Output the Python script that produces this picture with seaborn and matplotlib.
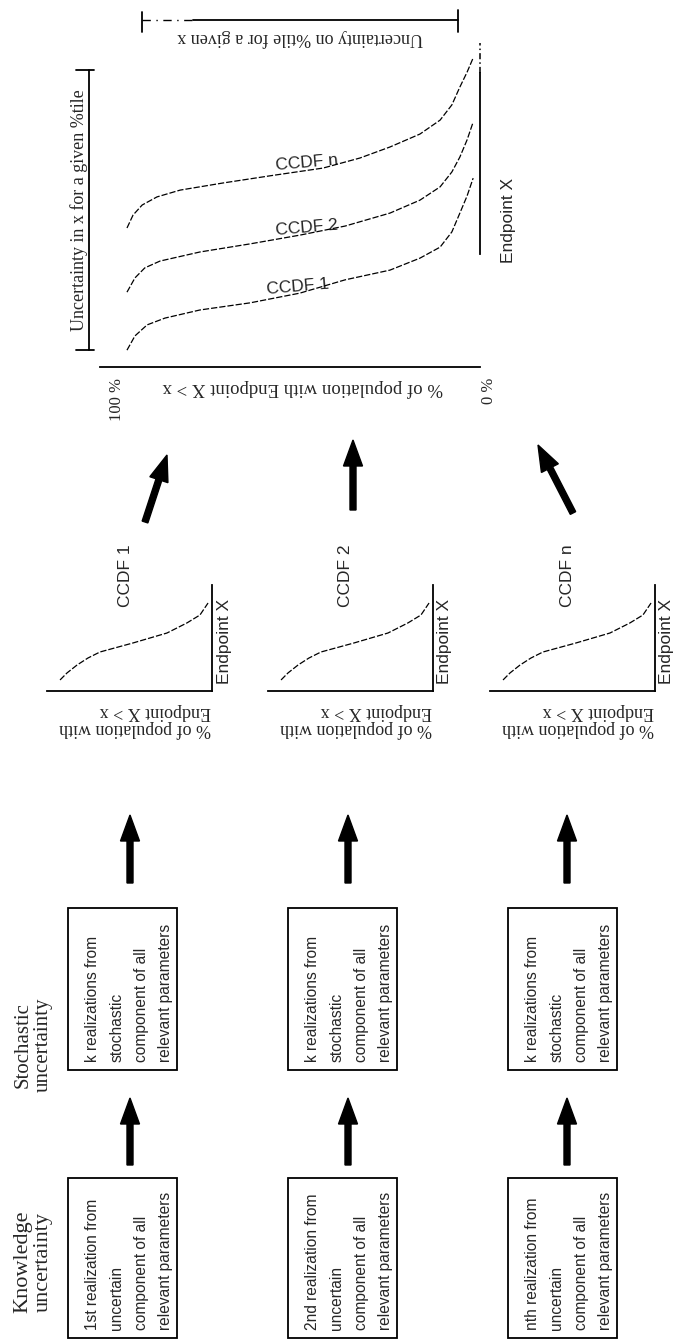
import matplotlib
matplotlib.use("Agg")
import matplotlib.pyplot as plt
import pandas as pd
import seaborn as sns
from matplotlib.patches import Rectangle

sns.set_theme(style="white")
plt.rcParams['font.family'] = ['Liberation Sans', 'DejaVu Sans']
SERIF = ['Liberation Serif', 'DejaVu Serif']

# ---- CCDF data: % of population exceeding x, and endpoint value x ----
ccdf_1_pct = [92.9, 90.8, 87.6, 82.9, 73.7, 60.5, 47.4, 35.5, 23.7, 15.8, 10.5, 7.4, 5.3, 3.4, 1.8]
ccdf_1_end = [0.52, 0.96, 1.30, 1.51, 1.76, 1.98, 2.28, 2.69, 2.99, 3.36, 3.70, 4.17, 4.75, 5.28, 5.83]
ccdf_2_pct = [92.9, 90.8, 88.2, 84.2, 73.7, 60.5, 47.4, 35.5, 23.7, 15.8, 10.5, 7.4, 5.3, 3.4, 1.8]
ccdf_2_end = [2.31, 2.75, 3.06, 3.27, 3.55, 3.80, 4.07, 4.35, 4.75, 5.15, 5.56, 6.02, 6.48, 7.01, 7.56]
ccdf_n_pct = [92.9, 91.3, 88.9, 85.0, 78.9, 67.6, 55.3, 41.3, 31.6, 23.7, 15.8, 10.5, 7.4, 5.3, 3.4, 1.8]
ccdf_n_end = [4.29, 4.69, 5.00, 5.25, 5.46, 5.68, 5.90, 6.14, 6.45, 6.79, 7.19, 7.62, 8.09, 8.64, 9.10, 9.54]

# single-realization CCDF sketch used in the three small panels
small_pct = [92.1, 87.9, 81.8, 75.2, 67.9, 47.9, 27.3, 15.2, 7.3, 2.4]
small_end = [1.04, 1.70, 2.45, 3.11, 3.68, 4.53, 5.47, 6.42, 7.17, 8.30]

small_titles = ["CCDF 1", "CCDF 2", "CCDF n"]
knowledge_texts = [
    "1st realization from\nuncertain\ncomponent of all\nrelevant parameters",
    "2nd realization from\nuncertain\ncomponent of all\nrelevant parameters",
    "nth realization from\nuncertain\ncomponent of all\nrelevant parameters",
]
stochastic_text = "k realizations from\nstochastic\ncomponent of all\nrelevant parameters"
pct_label = "% of population with\nEndpoint X > x"
big_pct_label = "% of population with Endpoint X > x"
endpoint_label = "Endpoint X"

W, H = 678, 1342
fig = plt.figure(figsize=(W / 100, H / 100), dpi=100)

# page-level canvas in pixel units (y grows downward)
page = fig.add_axes([0, 0, 1, 1], zorder=0)
page.set_xlim(0, W)
page.set_ylim(H, 0)
page.axis("off")


def px_axes(x0, y0, x1, y1):
    """Axes spanning the pixel box (x0, y0) - (x1, y1)."""
    return fig.add_axes([x0 / W, 1 - y1 / H, (x1 - x0) / W, (y1 - y0) / H], zorder=2)


def style_ccdf_axes(ax):
    ax.set_xlim(100, 0)
    ax.set_ylim(0, 10)
    ax.patch.set_alpha(0)
    for side in ("top", "left"):
        ax.spines[side].set_visible(False)
    for side in ("bottom", "right"):
        ax.spines[side].set_color("black")
        ax.spines[side].set_linewidth(1.3)
    ax.set_xticks([])
    ax.set_yticks([])
    ax.set_xlabel("")
    ax.set_ylabel("")


curve_ls = (0, (5, 1.6))

# ---- three small CCDF panels ----
col_left = [47, 268, 490]
col_arrow_x = [130, 348, 567]
box_left = [68, 288, 508]
for i, x0 in enumerate(col_left):
    ax = px_axes(x0, 585, x0 + 165, 691)
    sns.lineplot(x=small_pct, y=small_end, sort=False, ax=ax, color="black",
                 linewidth=0.9, linestyle=curve_ls)
    style_ccdf_axes(ax)
    page.text(x0 + 78, 576, small_titles[i], rotation=90, ha="center", va="center",
              fontsize=12.5)
    page.text(x0 + 177, 641, endpoint_label, rotation=90, ha="center", va="center",
              fontsize=12.5)
    page.text(x0 + 164, 703, pct_label, rotation=180, ha="right", va="top",
              fontsize=13, family=SERIF, multialignment="left", linespacing=1.0)

# ---- big combined CCDF panel ----
big = px_axes(100, 43, 480, 367)
for pct, end in ((ccdf_1_pct, ccdf_1_end), (ccdf_2_pct, ccdf_2_end), (ccdf_n_pct, ccdf_n_end)):
    sns.lineplot(x=pct, y=end, sort=False, ax=big, color="black",
                 linewidth=0.9, linestyle=curve_ls)
style_ccdf_axes(big)
big.spines["right"].set_bounds(3.5, 9.07)
# dash-dot continuation of the endpoint axis toward its top
big.plot([1, 1], [9.07, 10], color="black", lw=1.1, linestyle=(0, (4, 2, 1, 2)),
         clip_on=False, transform=big.get_yaxis_transform(which="grid"))

page.text(298, 287, "CCDF 1", rotation=5, ha="center", va="center", fontsize=12.5)
page.text(307, 228, "CCDF 2", rotation=5, ha="center", va="center", fontsize=12.5)
page.text(307, 163, "CCDF n", rotation=5, ha="center", va="center", fontsize=12.5)
page.text(509, 220, endpoint_label, rotation=90, ha="center", va="center", fontsize=12.5)
page.text(117, 378, "100 %", rotation=90, ha="center", va="top", fontsize=12, family=SERIF)
page.text(489, 378, "0 %", rotation=90, ha="center", va="top", fontsize=12, family=SERIF)
page.text(303, 388, big_pct_label, rotation=180, ha="center", va="center",
          fontsize=13.5, family=SERIF)

# uncertainty bracket across percentiles (top)
page.plot([193, 458], [20, 20], color="black", lw=1.3)
page.plot([142, 193], [20, 20], color="black", lw=1.0, linestyle=(0, (6, 4, 1, 4)))
page.plot([142, 142], [12, 32], color="black", lw=1.3)
page.plot([458, 458], [10, 32], color="black", lw=1.3)
page.text(300, 38, "Uncertainty on %tile for a given x", rotation=180, ha="center",
          va="center", fontsize=13, family=SERIF)

# uncertainty bracket along x (left)
page.plot([89, 89], [70, 350], color="black", lw=1.3)
page.plot([76, 94], [70, 70], color="black", lw=1.3)
page.plot([76, 94], [350, 350], color="black", lw=1.3)
page.text(79, 210, "Uncertainty in x for a given %tile", rotation=90, ha="center",
          va="center", fontsize=13, family=SERIF)

# ---- realization boxes ----
def box(x0, y0, x1, y1, text):
    page.add_patch(Rectangle((x0, y0), x1 - x0, y1 - y0, fill=False,
                             edgecolor="black", lw=1.3))
    page.text(x0 + 17, y1 - 8, text, rotation=90, ha="left", va="bottom",
              fontsize=11.2, linespacing=1.78, multialignment="left")


for i, bx in enumerate(box_left):
    box(bx, 908, bx + 109, 1070, stochastic_text)
    box(bx, 1178, bx + 109, 1338, knowledge_texts[i])

page.text(33, 1262, "Knowledge\nuncertainty", rotation=90, ha="center", va="center",
          fontsize=16, family=SERIF, linespacing=1.05)
page.text(33, 1045, "Stochastic\nuncertainty", rotation=90, ha="center", va="center",
          fontsize=15, family=SERIF, linespacing=1.05)

# ---- arrows ----
arrow_kw = dict(width=6, head_width=19, head_length=26, length_includes_head=True,
                color="black", zorder=3)
for ax_x in col_arrow_x:
    page.arrow(ax_x, 1165, 0, 1098 - 1165, **arrow_kw)
    page.arrow(ax_x, 883, 0, 815 - 883, **arrow_kw)
page.arrow(145, 522, 167 - 145, 455 - 522, **arrow_kw)
page.arrow(353, 510, 0, 440 - 510, **arrow_kw)
page.arrow(573, 513, 538 - 573, 445 - 513, **arrow_kw)

fig.savefig("out.png", dpi=100, facecolor="white")
